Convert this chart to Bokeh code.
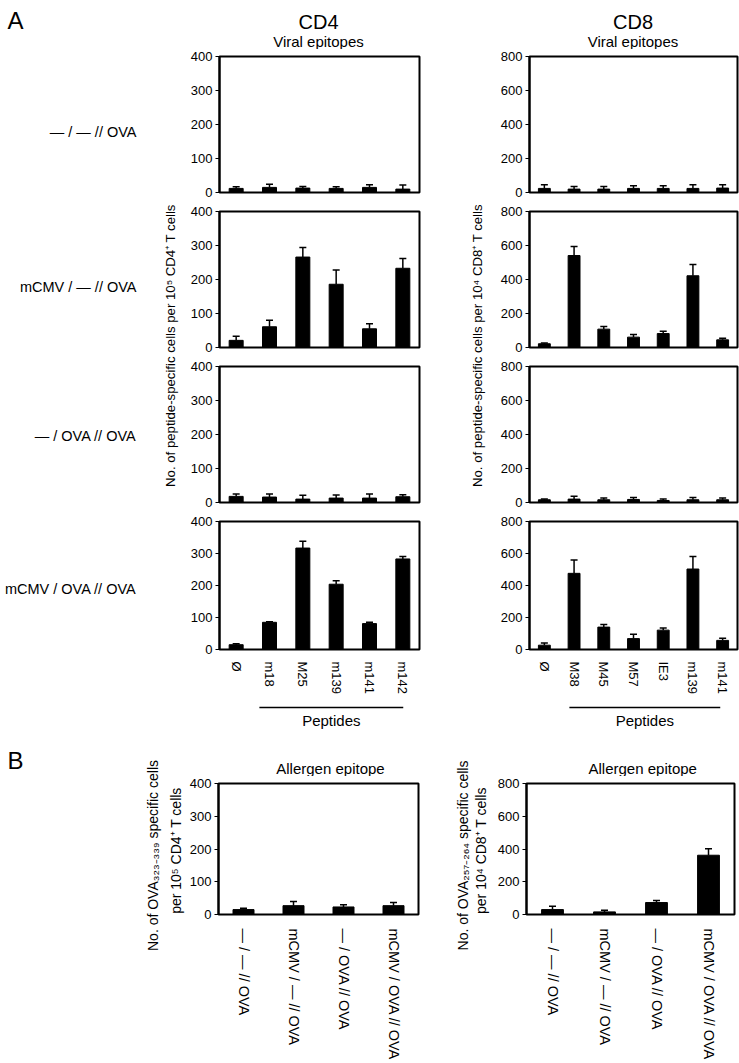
import math
from bokeh.plotting import figure
from bokeh.models import Range1d, FactorRange, FixedTicker, Whisker, TeeHead, ColumnDataSource
from bokeh.layouts import column, row
from bokeh.embed import file_html
from bokeh.resources import INLINE
from bokeh.core.properties import value

FONT = "Liberation Sans"

# ---------------- data ----------------
cd4_peptides = ["Ø", "m18", "M25", "m139", "m141", "m142"]
cd8_peptides = ["Ø", "M38", "M45", "M57", "IE3", "m139", "m141"]
groups = ["— / — // OVA", "mCMV / — // OVA", "— / OVA // OVA", "mCMV / OVA // OVA"]

cd4_ticks = [0, 100, 200, 300, 400]
cd8_ticks = [0, 200, 400, 600, 800]

cd4_g1_mean = [12, 15, 13, 12, 15, 10]
cd4_g1_err = [5, 9, 5, 5, 8, 12]
cd4_g2_mean = [21, 61, 266, 186, 55, 233]
cd4_g2_err = [12, 19, 28, 42, 15, 29]
cd4_g3_mean = [18, 16, 10, 13, 13, 17]
cd4_g3_err = [7, 9, 11, 9, 12, 6]
cd4_g4_mean = [15, 85, 317, 204, 81, 283]
cd4_g4_err = [3, 2, 21, 11, 4, 8]

cd8_g1_mean = [24, 20, 20, 24, 24, 24, 26]
cd8_g1_err = [21, 15, 15, 16, 16, 21, 19]
cd8_g2_mean = [22, 541, 108, 61, 82, 422, 45]
cd8_g2_err = [5, 53, 16, 15, 14, 66, 10]
cd8_g3_mean = [16, 20, 16, 18, 12, 16, 16]
cd8_g3_err = [4, 17, 11, 11, 8, 13, 11]
cd8_g4_mean = [27, 476, 140, 68, 121, 503, 57]
cd8_g4_err = [14, 84, 16, 28, 14, 78, 13]

ova_cd4_mean = [15, 27, 23, 27]
ova_cd4_err = [4, 13, 7, 10]
ova_cd8_mean = [30, 16, 73, 362]
ova_cd8_err = [21, 10, 12, 39]

# ---------------- geometry (page px) ----------------
PX0, PX1 = 0, 739
# panel A frames
CD4_FX0, CD4_FW, CD4_LB = 217, 202, 30
CD8_FX0, CD8_FW, CD8_LB = 528, 209, 31
CD4_FIG_X0 = CD4_FX0 - CD4_LB
CD4_FIG_X1 = CD4_FX0 + CD4_FW + 2
CD8_FIG_X0 = CD8_FX0 - CD8_LB
CD8_RB = PX1 - (CD8_FX0 + CD8_FW)
# panel B frames
B4_FX0, B4_FW, B4_LB = 216, 202, 30
B8_FX0, B8_FW, B8_LB = 526, 208, 34
B4_FIG_X0 = B4_FX0 - B4_LB
B4_FIG_X1 = B4_FX0 + B4_FW + 2
B8_FIG_X0 = B8_FX0 - B8_LB
B8_RB = PX1 - (B8_FX0 + B8_FW)

TOPB = 7
ROW_PITCH = 155
FRAME_H = 136
FRAME_TOP1 = 56
TOP_Y0, TOP_Y1 = 0, FRAME_TOP1 - TOPB
MID_Y0 = TOP_Y1
LAST_BOTTOM = 40
MID_Y1 = FRAME_TOP1 + 3 * ROW_PITCH + FRAME_H + LAST_BOTTOM   # 697
B_FRAME_TOP = 783
B_FRAME_H = 135
BA_Y0, BA_Y1 = MID_Y1, B_FRAME_TOP - TOPB
BB_Y1 = 1063


def decor(x0, x1, y0, y1):
    p = figure(width=x1 - x0, height=y1 - y0, x_range=Range1d(x0, x1), y_range=Range1d(-y1, -y0),
               x_axis_location=None, y_axis_location=None, toolbar_location=None,
               output_backend="svg", min_border=0)
    p.grid.visible = False
    p.outline_line_color = None
    p.background_fill_color = "white"
    p.border_fill_color = "white"
    return p


def txt(p, x, y, s, size, align="center", angle=0.0):
    p.text(x=[x], y=[-y], text=[s], text_font=value(FONT), text_font_size=f"{size}px",
           text_align=align, text_baseline="middle", angle=angle, text_color="black")


def panel(factors, means, errs, ticks, left_b, frame_w, right_b, frame_h, top_b, bottom_b,
          show_x, label_size, standoff, bar_w):
    p = figure(width=left_b + frame_w + right_b, height=top_b + frame_h + bottom_b,
               x_range=FactorRange(factors=factors, range_padding=0),
               y_range=Range1d(0, ticks[-1]),
               toolbar_location=None, output_backend="svg",
               min_border_left=left_b, min_border_right=right_b,
               min_border_top=top_b, min_border_bottom=bottom_b)
    src = ColumnDataSource(dict(x=factors, top=means, up=[m + e for m, e in zip(means, errs)]))
    p.vbar(x="x", top="top", width=bar_w, source=src, fill_color="black", line_color="black")
    w = Whisker(source=src, base="x", lower="top", upper="up", dimension="height",
                line_width=1.5, line_color="black",
                upper_head=TeeHead(size=7, line_width=1.5, line_color="black"), lower_head=None)
    p.add_layout(w)
    p.grid.visible = False
    p.outline_line_color = "black"
    p.outline_line_width = 2
    p.background_fill_color = "white"
    p.border_fill_color = "white"
    ya = p.yaxis[0]
    ya.ticker = FixedTicker(ticks=ticks)
    ya.minor_tick_line_color = None
    ya.major_tick_in = 0
    ya.major_tick_out = 4
    ya.major_tick_line_color = "black"
    ya.major_tick_line_width = 1.2
    ya.axis_line_color = "black"
    ya.axis_line_width = 2
    ya.major_label_text_font = FONT
    ya.major_label_text_font_size = "13px"
    ya.major_label_text_color = "black"
    ya.major_label_standoff = 3
    xa = p.xaxis[0]
    if show_x:
        xa.major_label_orientation = "vertical"
        xa.major_tick_line_color = None
        xa.minor_tick_line_color = None
        xa.axis_line_color = None
        xa.major_label_text_font = FONT
        xa.major_label_text_font_size = f"{label_size}px"
        xa.major_label_text_color = "black"
        xa.major_label_standoff = standoff
    else:
        xa.visible = False
    return p


cd4_cx = CD4_FX0 + CD4_FW / 2
cd8_cx = CD8_FX0 + CD8_FW / 2
b4_cx = B4_FX0 + B4_FW / 2
b8_cx = B8_FX0 + B8_FW / 2

# ---------------- top band ----------------
top = decor(PX0, PX1, TOP_Y0, TOP_Y1)
txt(top, 7, 20, "A", 24, align="left")
txt(top, cd4_cx, 21, "CD4", 20)
txt(top, cd8_cx, 21, "CD8", 20)
txt(top, cd4_cx, 40.5, "Viral epitopes", 15)
txt(top, cd8_cx, 40.5, "Viral epitopes", 15)

# ---------------- middle band (panel A) ----------------
left = decor(PX0, CD4_FIG_X0, MID_Y0, MID_Y1)
for gname, gy in zip(groups, [131, 286, 435, 588]):
    txt(left, 136, gy, gname, 14.5, align="right")
txt(left, 170, 345, "No. of peptide-specific cells per 10⁵ CD4⁺ T cells", 13.2, angle=math.pi / 2)

mid = decor(CD4_FIG_X1, CD8_FIG_X0, MID_Y0, MID_Y1)
txt(mid, 477, 345, "No. of peptide-specific cells per 10⁴ CD8⁺ T cells", 13.2, angle=math.pi / 2)

cd4_sets = [(cd4_g1_mean, cd4_g1_err), (cd4_g2_mean, cd4_g2_err),
            (cd4_g3_mean, cd4_g3_err), (cd4_g4_mean, cd4_g4_err)]
cd8_sets = [(cd8_g1_mean, cd8_g1_err), (cd8_g2_mean, cd8_g2_err),
            (cd8_g3_mean, cd8_g3_err), (cd8_g4_mean, cd8_g4_err)]

cd4_col = []
cd8_col = []
for i in range(4):
    last = i == 3
    bb = LAST_BOTTOM if last else ROW_PITCH - TOPB - FRAME_H
    cd4_col.append(panel(cd4_peptides, cd4_sets[i][0], cd4_sets[i][1], cd4_ticks, CD4_LB, CD4_FW, 2,
                         FRAME_H, TOPB, bb, last, 13, 6, 0.42))
    cd8_col.append(panel(cd8_peptides, cd8_sets[i][0], cd8_sets[i][1], cd8_ticks, CD8_LB, CD8_FW, CD8_RB,
                         FRAME_H, TOPB, bb, last, 13, 6, 0.40))

# ---------------- bottom section (peptide bars + panel B) ----------------
n4, n8 = len(cd4_peptides), len(cd8_peptides)

lb = decor(PX0, B4_FIG_X0, BA_Y0, BB_Y1)
txt(lb, 7, 760, "B", 24, align="left")
txt(lb, 152, 855, "No. of OVA₃₂₃₋₃₃₉ specific cells", 14, angle=math.pi / 2)
txt(lb, 175, 850, "per 10⁵ CD4⁺ T cells", 14, angle=math.pi / 2)

ba4 = decor(B4_FIG_X0, B4_FIG_X1, BA_Y0, BA_Y1)
ba4.line(x=[CD4_FX0 + CD4_FW / (2 * n4), CD4_FX0 + CD4_FW * (2 * n4 - 1) / (2 * n4)], y=[-707, -707],
         line_color="black", line_width=1.5)
txt(ba4, cd4_cx, 720, "Peptides", 15)
txt(ba4, b4_cx, 767.5, "Allergen epitope", 15)

mb = decor(B4_FIG_X1, B8_FIG_X0, BA_Y0, BB_Y1)
txt(mb, 462, 855, "No. of OVA₂₅₇₋₂₆₄ specific cells", 14, angle=math.pi / 2)
txt(mb, 480, 850, "per 10⁴ CD8⁺ T cells", 14, angle=math.pi / 2)

ba8 = decor(B8_FIG_X0, PX1, BA_Y0, BA_Y1)
ba8.line(x=[CD8_FX0 + CD8_FW / (2 * n8), CD8_FX0 + CD8_FW * (2 * n8 - 1) / (2 * n8)], y=[-707, -707],
         line_color="black", line_width=1.5)
txt(ba8, cd8_cx, 720, "Peptides", 15)
txt(ba8, b8_cx, 767.5, "Allergen epitope", 15)

b_bottom = BB_Y1 - B_FRAME_TOP - B_FRAME_H
pb4 = panel(groups, ova_cd4_mean, ova_cd4_err, cd4_ticks, B4_LB, B4_FW, 2, B_FRAME_H, TOPB, b_bottom,
            True, 14.5, 8, 0.42)
pb8 = panel(groups, ova_cd8_mean, ova_cd8_err, cd8_ticks, B8_LB, B8_FW, B8_RB, B_FRAME_H, TOPB, b_bottom,
            True, 14.5, 8, 0.42)

layout = column(
    top,
    row(left, column(*cd4_col), mid, column(*cd8_col)),
    row(lb, column(ba4, pb4), mb, column(ba8, pb8)),
)

open("out.html", "w").write(file_html(layout, INLINE))
